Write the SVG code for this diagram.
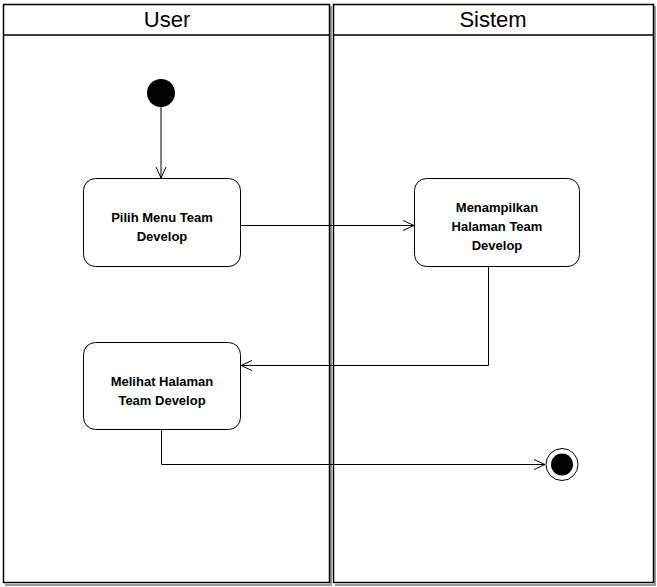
<svg xmlns="http://www.w3.org/2000/svg" width="657" height="587" viewBox="0 0 657 587">
<style>
.lane{fill:#fff;stroke:#000;stroke-width:1.5}
.shadow{fill:none;stroke:#999;stroke-width:2}
.hdr{font-family:"Liberation Sans",Arial,sans-serif;font-size:22px;fill:#000;text-anchor:middle}
.box{fill:#fff;stroke:#000;stroke-width:1}
.lbl{font-family:"Liberation Sans",Arial,sans-serif;font-size:13px;font-weight:bold;fill:#000;text-anchor:middle}
.edge{fill:none;stroke:#000;stroke-width:1;marker-end:url(#arr)}
</style>
<defs>
<marker id="arr" viewBox="0 0 12 12" refX="11" refY="6" markerWidth="12" markerHeight="12" markerUnits="userSpaceOnUse" orient="auto">
<path d="M0,1 L11,6 L0,11" fill="none" stroke="#000" stroke-width="1"/>
</marker>
</defs>
<g id="lane-user">
<path class="shadow" d="M331,6 V585 H5"/>
<rect class="lane" x="3.5" y="4.5" width="326" height="578"/>
<line x1="3.5" y1="35" x2="329.5" y2="35" stroke="#000" stroke-width="1.5"/>
<text class="hdr" x="167" y="27">User</text>
</g>
<g id="lane-sistem">
<path class="shadow" d="M655,6 V585 H335"/>
<rect class="lane" x="333.5" y="4.5" width="320" height="578"/>
<line x1="333.5" y1="35" x2="653.5" y2="35" stroke="#000" stroke-width="1.5"/>
<text class="hdr" x="493" y="27">Sistem</text>
</g>
<g id="connectors">
<path class="edge" d="M161,107 V178"/>
<path class="edge" d="M241,225.5 H414"/>
<path class="edge" d="M488.5,267 V365.5 H241"/>
<path class="edge" d="M161.5,429 V464.5 H545"/>
</g>
<g id="start">
<circle cx="161" cy="93" r="14" fill="#000"/>
</g>
<g id="pilih-menu">
<rect class="box" x="83.5" y="178.5" width="157" height="88" rx="12"/>
<text class="lbl" x="162" y="222">Pilih Menu Team</text>
<text class="lbl" x="162" y="241">Develop</text>
</g>
<g id="menampilkan">
<rect class="box" x="414.5" y="178.5" width="165" height="88" rx="12"/>
<text class="lbl" x="497" y="212">Menampilkan</text>
<text class="lbl" x="497" y="231">Halaman Team</text>
<text class="lbl" x="497" y="250">Develop</text>
</g>
<g id="melihat">
<rect class="box" x="83.5" y="342.5" width="157" height="87" rx="12"/>
<text class="lbl" x="162" y="386">Melihat Halaman</text>
<text class="lbl" x="162" y="405">Team Develop</text>
</g>
<g id="end">
<circle cx="562" cy="464.5" r="16" fill="#fff" stroke="#000" stroke-width="1"/>
<circle cx="562" cy="464.5" r="11" fill="#000"/>
</g>
</svg>
